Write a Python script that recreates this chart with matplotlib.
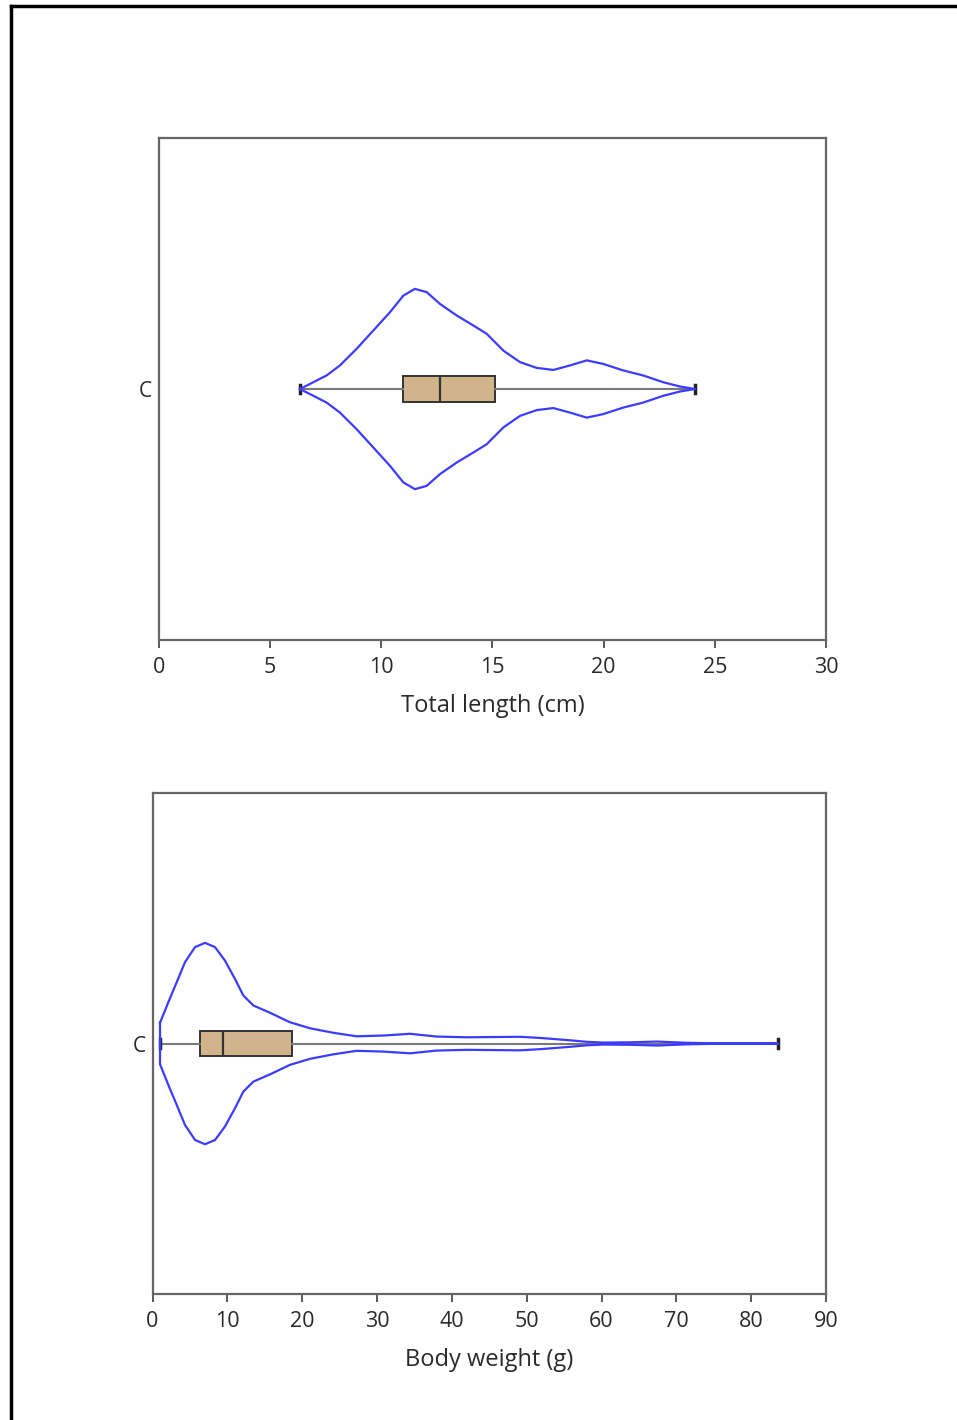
import matplotlib
matplotlib.use("Agg")
import matplotlib.pyplot as plt
import numpy as np
from matplotlib.lines import Line2D

plt.rcParams['font.family'] = ['Open Sans', 'DejaVu Sans']

category = ['C']

# total length (cm): violin outline (position, half width)
len_x = [6.34, 6.94, 7.54, 8.14, 8.89, 9.64, 10.39, 10.99, 11.51, 12.04, 12.64,
         13.39, 14.14, 14.74, 15.49, 16.24, 16.99, 17.74, 18.49, 19.24, 19.98,
         20.88, 21.78, 22.68, 23.43, 24.11]
len_w = [0.0, 0.027, 0.054, 0.094, 0.16, 0.233, 0.306, 0.372, 0.399, 0.386, 0.339,
         0.293, 0.253, 0.22, 0.153, 0.107, 0.084, 0.076, 0.094, 0.114, 0.10,
         0.074, 0.054, 0.027, 0.01, 0.0]
len_box = dict(whislo=6.34, q1=10.98, med=12.64, q3=15.1, whishi=24.11)

# body weight (g)
wt_x = [1.0, 2.11, 3.23, 4.34, 5.68, 7.01, 8.35, 9.68, 11.02, 12.13, 13.47,
        15.7, 18.37, 21.04, 24.15, 27.28, 30.83, 34.4, 37.96, 41.97, 49.1,
        52.0, 55.8, 58.0, 60.2, 64.0, 67.4, 71.4, 75.0, 83.6]
wt_w = [0.083, 0.165, 0.245, 0.325, 0.385, 0.402, 0.385, 0.331, 0.258, 0.192, 0.152,
        0.123, 0.085, 0.061, 0.043, 0.029, 0.032, 0.039, 0.028, 0.025, 0.027,
        0.022, 0.013, 0.007, 0.004, 0.005, 0.008, 0.003, 0.001, 0.0]
wt_box = dict(whislo=1.0, q1=6.33, med=9.4, q3=18.65, whishi=83.6)

len_ticks = [0, 5, 10, 15, 20, 25, 30]
wt_ticks = [0, 10, 20, 30, 40, 50, 60, 70, 80, 90]

fig = plt.figure(figsize=(9.57, 14.2), dpi=100)
ax1 = fig.add_axes([0.1661, 0.5493, 0.697, 0.3535])
ax2 = fig.add_axes([0.1594, 0.0887, 0.7037, 0.3528])


def draw(ax, xs, ws, box, ticks, label):
    xs = np.array(xs)
    ws = np.array(ws)
    stats = dict(box, fliers=[])
    ax.bxp([stats], positions=[0], orientation='horizontal', widths=0.1,
           capwidths=0.035, patch_artist=True, showfliers=False,
           boxprops=dict(facecolor='#d2b48c', edgecolor='#333333', linewidth=1.4),
           medianprops=dict(color='#333333', linewidth=1.6),
           whiskerprops=dict(color='#7a7a7a', linewidth=1.5),
           capprops=dict(color='#222222', linewidth=2.5))
    ox = np.concatenate([xs, xs[::-1], xs[:1]])
    oy = np.concatenate([ws, -ws[::-1], ws[:1]])
    ax.plot(ox, oy, color='#3c3cff', linewidth=1.6, zorder=3,
            solid_joinstyle='round')
    ax.set_xlim(ticks[0], ticks[-1])
    ax.set_ylim(-1, 1)
    ax.set_xticks(ticks)
    ax.set_yticks([0], labels=category)
    ax.tick_params(axis='y', length=0, pad=5, labelsize=15, colors='#2a2a2a')
    ax.tick_params(axis='x', length=6, width=1.4, color='#5a5a5a', pad=6,
                   labelsize=15.5, labelcolor='#2a2a2a')
    for s in ax.spines.values():
        s.set_color('#666666')
        s.set_linewidth(1.6)
    ax.set_xlabel(label, fontsize=17, color='#2a2a2a', labelpad=12)


draw(ax1, len_x, len_w, len_box, len_ticks, 'Total length (cm)')
draw(ax2, wt_x, wt_w, wt_box, wt_ticks, 'Body weight (g)')

# frame of the screenshot, only the top and left edges show
fig.add_artist(Line2D([11 / 957, 1], [1 - 5.5 / 1420, 1 - 5.5 / 1420],
                      transform=fig.transFigure, color='black', linewidth=2.5))
fig.add_artist(Line2D([11 / 957, 11 / 957], [0, 1 - 5.5 / 1420],
                      transform=fig.transFigure, color='black', linewidth=2.5))

fig.savefig('out.png', dpi=100)
